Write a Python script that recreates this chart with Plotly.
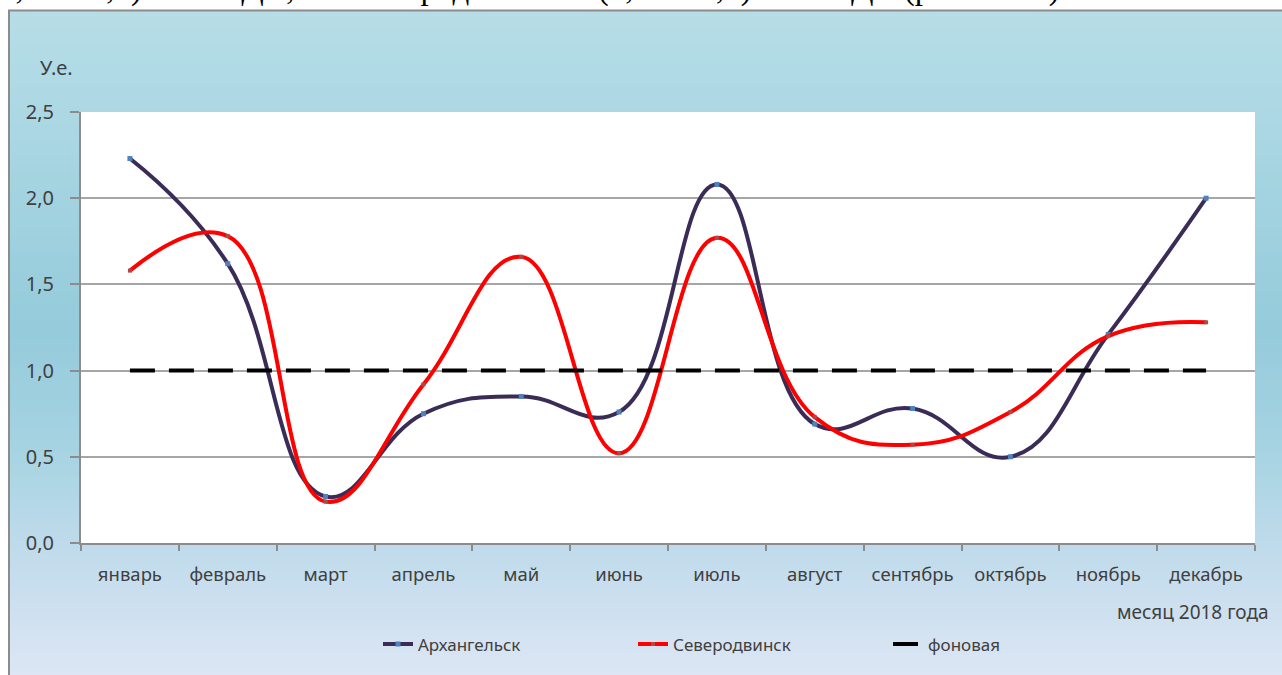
import plotly.graph_objects as go

months = ["январь", "февраль", "март", "апрель", "май", "июнь",
          "июль", "август", "сентябрь", "октябрь", "ноябрь", "декабрь"]
arkhangelsk = [2.23, 1.62, 0.27, 0.75, 0.85, 0.76, 2.08, 0.69, 0.78, 0.50, 1.21, 2.00]
severodvinsk = [1.58, 1.78, 0.24, 0.92, 1.66, 0.52, 1.77, 0.73, 0.57, 0.76, 1.20, 1.28]
background = [1.0] * 12
y_ticks = [0.0, 0.5, 1.0, 1.5, 2.0, 2.5]

W, H = 1282, 675
ML, MR, MT, MB = 81, 27, 112, 130
PW, PH = W - ML - MR, H - MT - MB
FONT = "Noto Sans"
TXT = "#404040"


def px(x):
    return (x - ML) / PW


def py(y):
    return (H - MB - y) / PH


fig = go.Figure()
fig.add_trace(go.Scatter(
    x=months, y=arkhangelsk, name="Архангельск", mode="lines+markers",
    line=dict(color="#3a2c57", width=4, shape="spline", smoothing=1.25),
    marker=dict(symbol="square", size=5, color="#4f81bd"),
))
fig.add_trace(go.Scatter(
    x=months, y=severodvinsk, name="Северодвинск", mode="lines+markers",
    line=dict(color="#ff0000", width=4, shape="spline", smoothing=1.25),
    marker=dict(symbol="square", size=4, color="#b04848"),
))
fig.add_trace(go.Scatter(
    x=months, y=background, name="фоновая", mode="lines",
    line=dict(color="#000000", width=4, dash="25px,14px"),
))

# background gradient bands (style only)
stops = [(0, (0xb8, 0xde, 0xe7)), (150, (0xa8, 0xd6, 0xe2)), (330, (0x95, 0xcb, 0xdb)),
         (450, (0xa6, 0xd3, 0xe2)), (560, (0xc2, 0xdc, 0xec)), (690, (0xdf, 0xe7, 0xf5))]


def col_at(p):
    for (a, ca), (b, cb) in zip(stops[:-1], stops[1:]):
        if a <= p <= b:
            t = (p - a) / (b - a)
            return "rgb(%d,%d,%d)" % tuple(round(ca[i] + (cb[i] - ca[i]) * t) for i in range(3))
    return "rgb(%d,%d,%d)" % stops[-1][1]


shapes = []
top_px, left_px, step = 10, 9, 6
yy = top_px
while yy < H + 10:
    shapes.append(dict(type="rect", xref="paper", yref="paper", layer="below",
                       x0=px(left_px), x1=px(W + 20), y0=py(yy + step + 1), y1=py(yy),
                       fillcolor=col_at(yy + step / 2), line=dict(width=0)))
    yy += step
# frame border
shapes.append(dict(type="rect", xref="paper", yref="paper", layer="below",
                   x0=px(left_px), x1=px(W + 20), y0=py(H + 20), y1=py(top_px),
                   fillcolor="rgba(0,0,0,0)", line=dict(color="#8c8c8c", width=2)))
# white plot area
shapes.append(dict(type="rect", xref="x domain", yref="y domain", layer="below",
                   x0=0, x1=1, y0=0, y1=1, fillcolor="white", line=dict(width=0)))

annotations = [
    dict(text="У.е.", xref="paper", yref="paper", x=px(38), y=py(67),
         xanchor="left", yanchor="middle", showarrow=False,
         font=dict(family=FONT, size=20, color=TXT)),
    dict(text="месяц 2018 года", xref="paper", yref="paper", x=px(1271), y=py(614),
         xanchor="right", yanchor="middle", showarrow=False,
         font=dict(family=FONT, size=19, color=TXT)),
    dict(text="1,7 – 18,2) и 10 ПДК; в г. Северодвинске – (2,1 – 18,4) и 10 ПДК (рис. 2.7-3).",
         xref="paper", yref="paper", x=px(-3), y=py(9),
         xanchor="left", yanchor="bottom", showarrow=False,
         font=dict(family="Liberation Serif", size=33, color="#000000")),
]

fig.update_layout(
    width=W, height=H,
    margin=dict(l=ML, r=MR, t=MT, b=MB),
    paper_bgcolor="white", plot_bgcolor="rgba(0,0,0,0)",
    separators=", ",
    shapes=shapes, annotations=annotations,
    showlegend=True,
    legend=dict(orientation="h", x=px(378), xanchor="left", y=py(647), yanchor="middle",
                bgcolor="rgba(0,0,0,0)", font=dict(family=FONT, size=17, color=TXT),
                entrywidth=210, entrywidthmode="pixels"),
    font=dict(family=FONT, color=TXT),
)
fig.update_xaxes(
    type="category", showgrid=False, showline=True, linecolor="#8c8c8c", linewidth=2,
    ticks="outside", ticklen=6, tickcolor="#8c8c8c", tickwidth=2, tickson="boundaries",
    tickfont=dict(family=FONT, size=18.5, color=TXT), ticklabelstandoff=14, range=[-0.5, 11.5],
)
fig.update_yaxes(
    range=[0, 2.5], tickvals=y_ticks, tickformat=".1f", showgrid=True,
    gridcolor="#a6a6a6", gridwidth=2, showline=True, linecolor="#8c8c8c", linewidth=2,
    ticks="outside", ticklen=9, tickcolor="#8c8c8c", tickwidth=2,
    tickfont=dict(family=FONT, size=20, color=TXT), ticklabelstandoff=12, zeroline=False,
)

fig.write_html("out.html", config={"displayModeBar": False},
               post_script="document.body.style.margin='0px';")
